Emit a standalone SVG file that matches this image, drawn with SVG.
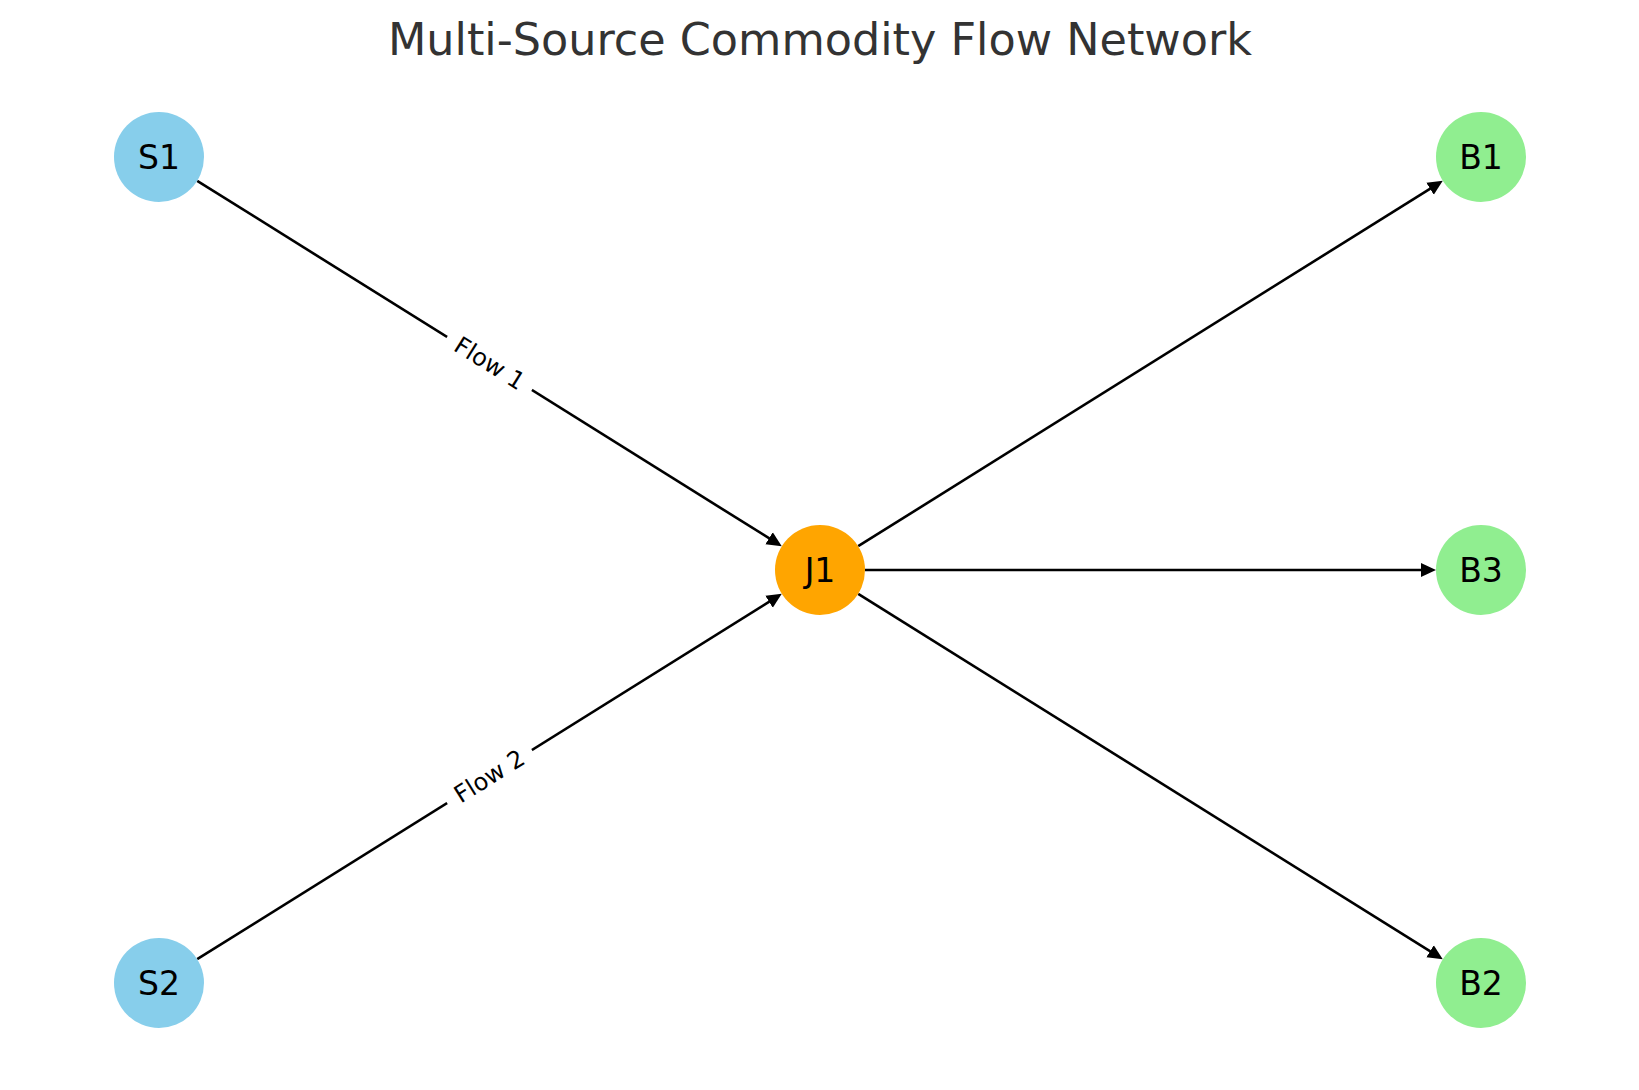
<svg xmlns="http://www.w3.org/2000/svg" width="1639" height="1090" viewBox="0 0 1639 1090">
<style>
  .title { font-family: "DejaVu Sans", "Liberation Sans", sans-serif; font-size: 44.5px; fill: #333333; text-anchor: middle; }
  .nlabel { font-family: "DejaVu Sans", "Liberation Sans", sans-serif; font-size: 33px; fill: #000000; text-anchor: middle; dominant-baseline: central; }
  .elabel { font-family: "DejaVu Sans", "Liberation Sans", sans-serif; font-size: 24px; fill: #000000; text-anchor: middle; dominant-baseline: central; }
  .edge { stroke: #000000; stroke-width: 2.6; fill: none; marker-end: url(#arrow); }
  .src { fill: #87CEEB; }
  .jn { fill: #FFA500; }
  .sink { fill: #90EE90; }
</style>
<defs>
  <marker id="arrow" markerUnits="userSpaceOnUse" viewBox="0 -8 15 16" refX="5" refY="0" markerWidth="15" markerHeight="16" orient="auto">
    <path d="M0,-7 L15,0 L0,7 Z" fill="#000000"/>
  </marker>
</defs>
<rect width="1639" height="1090" fill="#ffffff"/>
<text class="title" x="820" y="55">Multi-Source Commodity Flow Network</text>
<g id="connectors">
  <line class="edge" x1="197.2" y1="180.8" x2="773.3" y2="540.9"/>
  <line class="edge" x1="197.2" y1="959.2" x2="773.3" y2="599.1"/>
  <line class="edge" x1="858.2" y1="546.2" x2="1434.3" y2="186.1"/>
  <line class="edge" x1="858.2" y1="593.8" x2="1434.3" y2="953.9"/>
  <line class="edge" x1="865" y1="570" x2="1426" y2="570"/>
  <g transform="translate(489.5,363.5) rotate(32)">
    <rect x="-50" y="-16" width="100" height="32" fill="#ffffff"/>
    <text class="elabel" x="0" y="0">Flow 1</text>
  </g>
  <g transform="translate(489.5,776.5) rotate(-32)">
    <rect x="-50" y="-16" width="100" height="32" fill="#ffffff"/>
    <text class="elabel" x="0" y="0">Flow 2</text>
  </g>
</g>
<g id="S1"><circle class="src" cx="159" cy="157" r="45"/><text class="nlabel" x="159" y="157">S1</text></g>
<g id="S2"><circle class="src" cx="159" cy="983" r="45"/><text class="nlabel" x="159" y="983">S2</text></g>
<g id="J1"><circle class="jn" cx="820" cy="570" r="45"/><text class="nlabel" x="820" y="570">J1</text></g>
<g id="B1"><circle class="sink" cx="1481" cy="157" r="45"/><text class="nlabel" x="1481" y="157">B1</text></g>
<g id="B3"><circle class="sink" cx="1481" cy="570" r="45"/><text class="nlabel" x="1481" y="570">B3</text></g>
<g id="B2"><circle class="sink" cx="1481" cy="983" r="45"/><text class="nlabel" x="1481" y="983">B2</text></g>
</svg>
